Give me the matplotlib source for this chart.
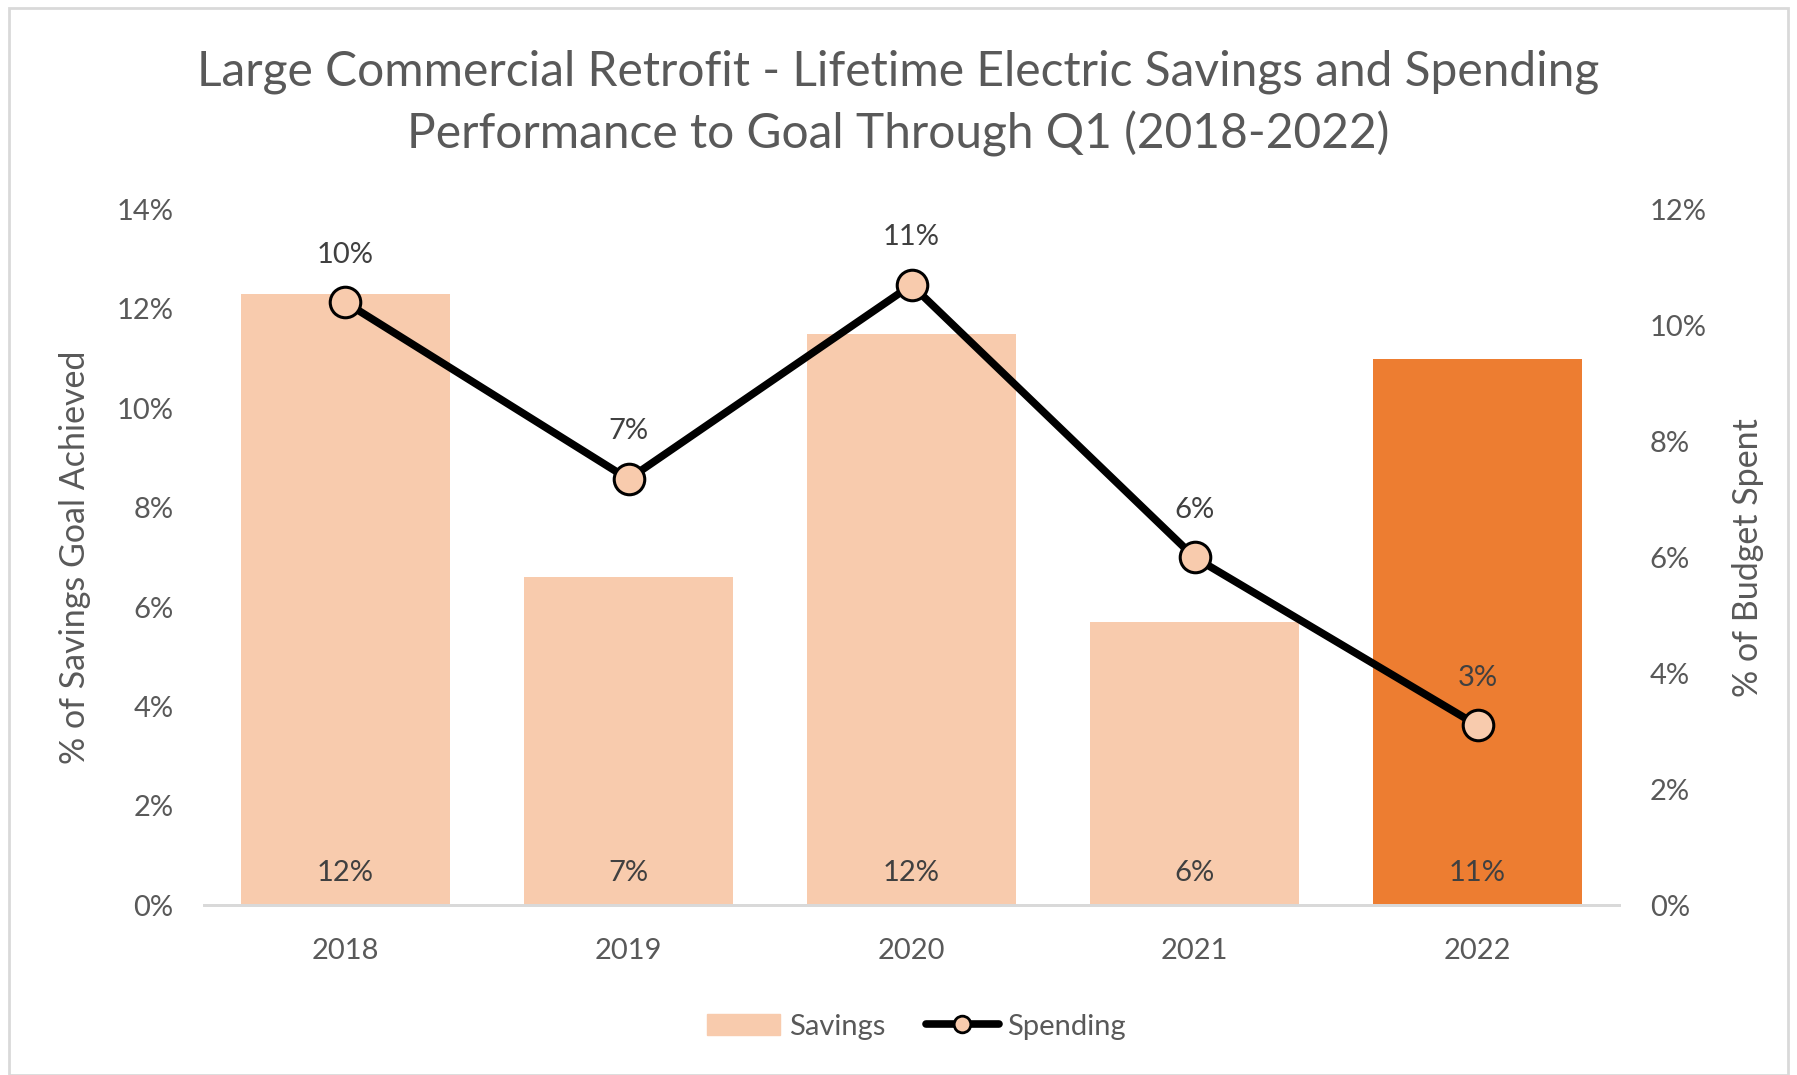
import matplotlib.pyplot as plt
from matplotlib.patches import Rectangle
from matplotlib.lines import Line2D
from matplotlib.ticker import PercentFormatter

years = ['2018', '2019', '2020', '2021', '2022']
savings = [12.3, 6.6, 11.5, 5.7, 11.0]
spending = [10.4, 7.35, 10.7, 6.0, 3.1]
savings_labels = ['12%', '7%', '12%', '6%', '11%']
spending_labels = ['10%', '7%', '11%', '6%', '3%']

light = '#F8CBAD'
dark = '#ED7D31'
grey = '#595959'

plt.rcParams['font.family'] = ['Lato', 'DejaVu Sans']

fig = plt.figure(figsize=(17.97, 10.75), dpi=100)
ax = fig.add_axes([0.1135, 0.158, 0.7875, 0.647])
ax2 = ax.twinx()

x = list(range(len(years)))
colors = [light] * (len(years) - 1) + [dark]
ax.bar(x, savings, width=0.737, color=colors, zorder=2)
for i, lab in enumerate(savings_labels):
    ax.text(i, 0.38, lab, ha='center', va='bottom', fontsize=21, color='#404040')

ax.set_xlim(-0.5, len(years) - 0.5)
ax.set_ylim(0, 14)
ax.set_yticks(range(0, 15, 2))
ax.yaxis.set_major_formatter(PercentFormatter(decimals=0))
ax.set_xticks(x)
ax.set_xticklabels(years)
ax.set_ylabel('% of Savings Goal Achieved', fontsize=24.5, color=grey, labelpad=18)

ax2.plot(x, spending, color='black', lw=5.5, marker='o', markersize=22,
         markerfacecolor=light, markeredgecolor='black', markeredgewidth=2.2,
         zorder=5, solid_capstyle='round')
for i, lab in enumerate(spending_labels):
    ax2.annotate(lab, (i, spending[i]), xytext=(0, 25), textcoords='offset points',
                 ha='center', va='bottom', fontsize=21, color='#404040')
ax2.set_ylim(0, 12)
ax2.set_yticks(range(0, 13, 2))
ax2.yaxis.set_major_formatter(PercentFormatter(decimals=0))
ax2.set_ylabel('% of Budget Spent', fontsize=24.5, color=grey, labelpad=18)

for a in (ax, ax2):
    for s in ('top', 'left', 'right'):
        a.spines[s].set_visible(False)
    a.spines['bottom'].set_color('#D9D9D9')
    a.spines['bottom'].set_linewidth(2)
    a.tick_params(axis='both', length=0, labelsize=21, labelcolor=grey, pad=22)
ax.tick_params(axis='x', pad=24)

fig.text(0.5, 0.904, 'Large Commercial Retrofit - Lifetime Electric Savings and Spending\n'
         'Performance to Goal Through Q1 (2018-2022)',
         ha='center', va='center', fontsize=34.5, color=grey, linespacing=1.45)

handles = [Rectangle((0, 0), 1, 1, color=light),
           Line2D([], [], color='black', lw=5.5, marker='o', markersize=12,
                  markerfacecolor=light, markeredgecolor='black', markeredgewidth=2,
                  solid_capstyle='round')]
fig.legend(handles, ['Savings', 'Spending'], loc='center', bbox_to_anchor=(0.51, 0.045),
           ncol=2, frameon=False, fontsize=21, labelcolor=grey, handlelength=2.5,
           handletextpad=0.3, columnspacing=1.4)

fig.patches.append(Rectangle((0.005, 0.0), 0.99, 0.993, transform=fig.transFigure,
                             fill=False, edgecolor='#D9D9D9', lw=2))

fig.savefig('out.png', dpi=100)
